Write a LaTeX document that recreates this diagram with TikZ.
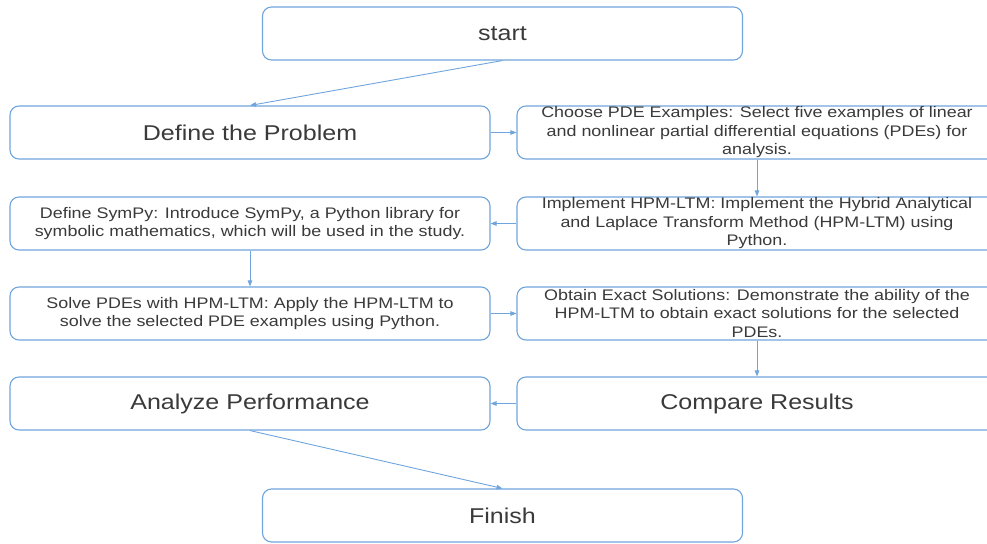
\documentclass[tikz,border=0pt]{standalone}
\usepackage{fontspec}
\setmainfont{Liberation Sans}[FakeStretch=1.17]
\usetikzlibrary{arrows.meta}
\definecolor{boxblue}{HTML}{6FA5DC}
\definecolor{txt}{HTML}{3A3A3A}
\begin{document}
\begin{tikzpicture}[x=1pt,y=-1pt,
  box/.style={draw=boxblue, line width=1.1pt, rounded corners=9pt, fill=white,
    minimum width=480pt, minimum height=53pt, inner sep=0pt, text=txt, align=center},
  big/.style={box, font=\fontsize{21.4}{24}\selectfont},
  small/.style={box, font=\fontsize{15.3}{18.5}\selectfont},
  arr/.style={draw=boxblue, line width=0.9pt, -{Triangle[length=6pt,width=4.5pt]}}]
\useasboundingbox (0,0) rectangle (987,543);
\clip (0,0) rectangle (987,543);
\node[big] (start) at (502.5,33.5) {start};
\node[big] (def) at (250,132.5) {Define the Problem};
\node[small] (choose) at (757,132.5) {Choose PDE Examples: Select five examples of linear\\and nonlinear partial differential equations (PDEs) for\\analysis.};
\node[small] (sympy) at (250,223.5) {Define SymPy: Introduce SymPy, a Python library for\\symbolic mathematics, which will be used in the study.};
\node[small] (impl) at (757,223.5) {Implement HPM-LTM: Implement the Hybrid Analytical\\and Laplace Transform Method (HPM-LTM) using\\Python.};
\node[small] (solve) at (250,313.5) {Solve PDEs with HPM-LTM: Apply the HPM-LTM to\\solve the selected PDE examples using Python.};
\node[small] (exact) at (757,313.5) {Obtain Exact Solutions: Demonstrate the ability of the\\HPM-LTM to obtain exact solutions for the selected\\PDEs.};
\node[big] (analyze) at (250,403.5) {Analyze Performance};
\node[big] (compare) at (757,403.5) {Compare Results};
\node[big] (finish) at (502.5,515.5) {Finish};
\draw[arr] (start.south) -- (def.north);
\draw[arr] (def.east) -- (choose.west);
\draw[arr] (choose.south) -- (impl.north);
\draw[arr] (impl.west) -- (sympy.east);
\draw[arr] (sympy.south) -- (solve.north);
\draw[arr] (solve.east) -- (exact.west);
\draw[arr] (exact.south) -- (compare.north);
\draw[arr] (compare.west) -- (analyze.east);
\draw[arr] (analyze.south) -- (finish.north);
\end{tikzpicture}
\end{document}
